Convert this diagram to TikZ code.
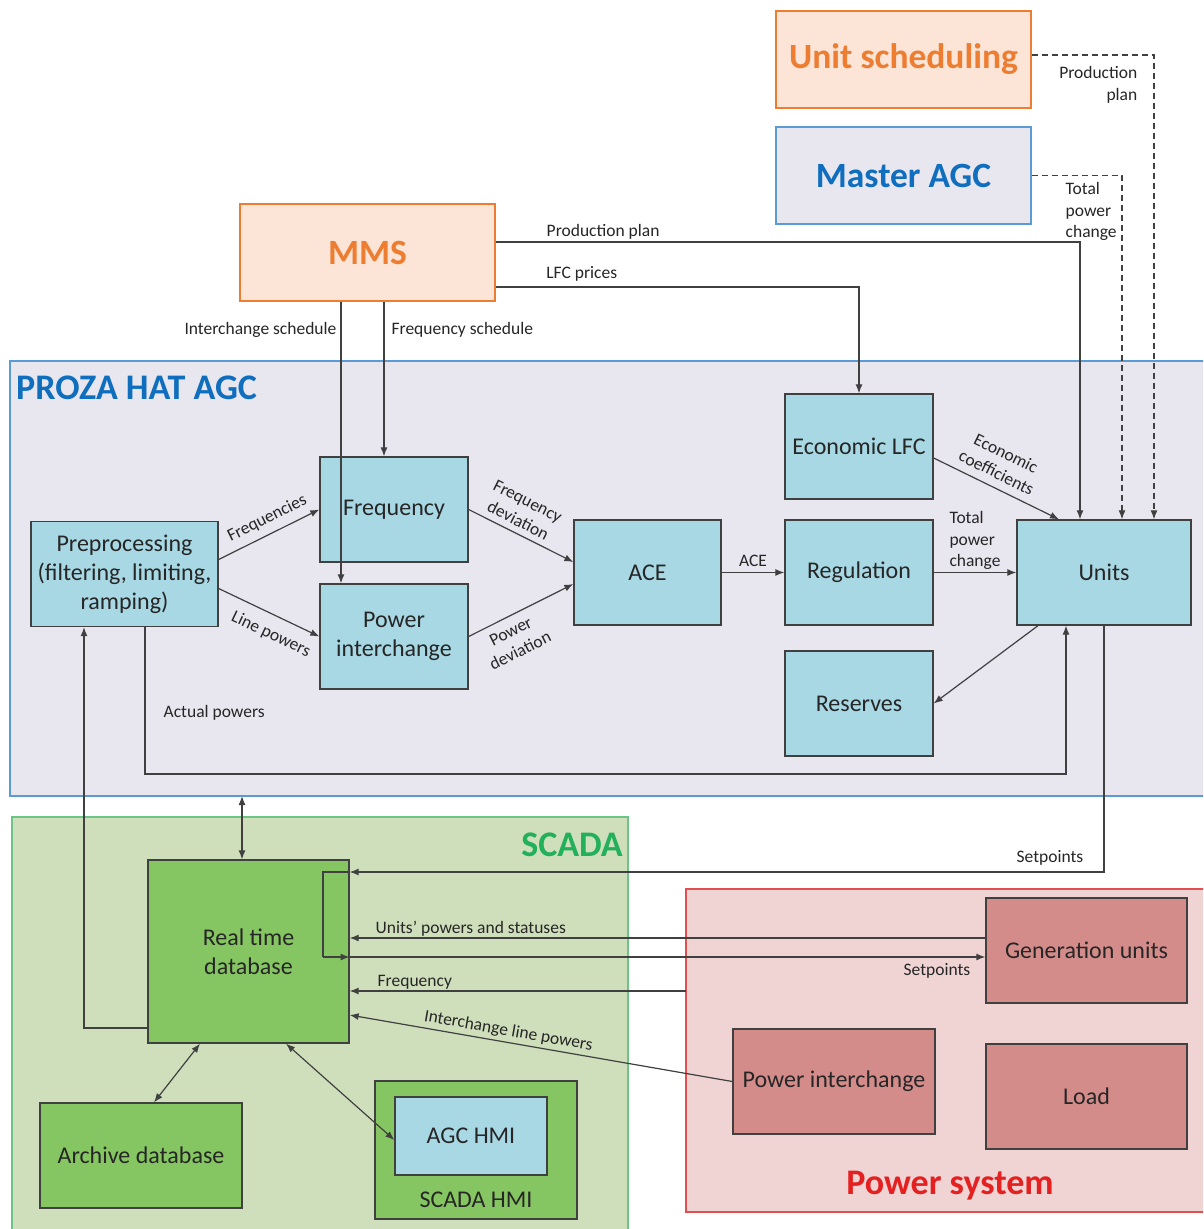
\documentclass[tikz,border=0pt]{standalone}
\usepackage{fontspec}
\setmainfont{Carlito}
\usetikzlibrary{arrows.meta}
\definecolor{lineg}{HTML}{404040}
\definecolor{txt}{HTML}{262626}
\definecolor{cyanbox}{HTML}{A8D8E4}
\definecolor{prozabg}{HTML}{E8E6EE}
\definecolor{prozaln}{HTML}{5B9BD5}
\definecolor{bluet}{HTML}{0F6EBE}
\definecolor{scadabg}{HTML}{CFDFBB}
\definecolor{scadaln}{HTML}{6CC486}
\definecolor{scadat}{HTML}{22B05A}
\definecolor{greenbox}{HTML}{86C662}
\definecolor{psbg}{HTML}{F0D4D4}
\definecolor{psln}{HTML}{E05050}
\definecolor{pst}{HTML}{E52020}
\definecolor{redbox}{HTML}{D48C8A}
\definecolor{orbg}{HTML}{FCE4D6}
\definecolor{orln}{HTML}{ED7D31}
\tikzset{
  box/.style={draw=lineg, line width=1.3pt, inner sep=2pt, align=center, text=txt,
    font=\fontsize{24}{29}\selectfont},
  cbox/.style={box, fill=cyanbox, minimum width=148pt, minimum height=105pt},
  gbox/.style={box, fill=greenbox},
  rbox/.style={box, fill=redbox, minimum width=202pt, minimum height=105pt},
  titlebox/.style={line width=1.2pt, minimum width=255pt, minimum height=97pt,
    font=\fontsize{35.5}{40}\selectfont\bfseries},
  region/.style={line width=1.2pt},
  regtitle/.style={font=\fontsize{36}{40}\selectfont\bfseries, inner sep=0pt},
  lbl/.style={font=\fontsize{17.5}{21.5}\selectfont, text=txt, inner sep=2.5pt},
  slbl/.style={lbl, sloped, inner sep=5pt},
  conn/.style={draw=lineg, line width=1.2pt},
  arr/.style={conn, -{Latex[length=9pt,width=7pt]}},
  darr/.style={conn, {Latex[length=9pt,width=7pt]}-{Latex[length=9pt,width=7pt]}},
  dsh/.style={arr, dash pattern=on 6pt off 4pt},
}
\begin{document}
\begin{tikzpicture}[x=1pt,y=-1pt]
\useasboundingbox (0,0) rectangle (1203,1229);
\clip (0,0) rectangle (1203,1229);
\fill[white] (0,0) rectangle (1203,1229);

% regions
\draw[region, fill=prozabg, draw=prozaln] (10,361) rectangle (1215,796);
\coordinate (prozaS) at (600,796);
\node[regtitle, text=bluet, anchor=west] at (16,388) {PROZA HAT AGC};
\draw[region, fill=scadabg, draw=scadaln] (12,817) rectangle (628,1240);
\node[regtitle, text=scadat, anchor=east] at (623,845) {SCADA};
\draw[region, fill=psbg, draw=psln] (686,889) rectangle (1215,1212);
\coordinate (psW) at (686,1000);
\node[regtitle, text=pst] at (950,1186) {Power system};

% top boxes
\node[titlebox, fill=orbg, draw=orln, text=orln] (us) at (903.5,59.5) {Unit scheduling};
\node[titlebox, fill=prozabg, draw=prozaln, text=bluet] (magc) at (903.5,175.5) {Master AGC};
\node[titlebox, fill=orbg, draw=orln, text=orln] (mms) at (367.5,252.5) {MMS};

% AGC boxes
\node[cbox, minimum width=187pt] (pre) at (124.5,574) {Preprocessing\\(filtering, limiting,\\ramping)};
\node[cbox] (freq) at (394,509.5) {Frequency};
\node[cbox] (pi) at (394,636.5) {Power\\interchange};
\node[cbox, minimum width=147pt] (ace) at (647.5,572.5) {ACE};
\node[cbox] (econ) at (859,446.5) {Economic LFC};
\node[cbox] (reg) at (859,572.5) {Regulation};
\node[cbox, minimum width=174pt] (units) at (1104,572.5) {Units};
\node[cbox] (res) at (859,703.5) {Reserves};

% SCADA boxes
\node[gbox, minimum width=201pt, minimum height=183pt] (rtdb) at (248.5,951.5) {Real time\\database};
\node[gbox, minimum width=202pt, minimum height=105pt] (arch) at (141,1155.5) {Archive database};
\node[gbox, minimum width=202pt, minimum height=138pt] (shmi) at (476,1150) {};
\node[box, fill=cyanbox, minimum width=152pt, minimum height=78pt] (ahmi) at (471,1136) {AGC HMI};
\node[box, draw=none, fill=none, inner sep=0pt] at (476,1200) {SCADA HMI};

% Power system boxes
\node[rbox, minimum width=201pt] (gen) at (1086.5,950.5) {Generation units};
\node[rbox] (pips) at (834,1081.5) {Power interchange};
\node[rbox, minimum width=201pt] (load) at (1086.5,1096.5) {Load};

% ports
\coordinate (mmsPP) at ([yshift=10.5pt]mms.east);
\coordinate (mmsLFC) at ([yshift=-34.5pt]mms.east);
\coordinate (mmsIS) at ([xshift=-26.5pt]mms.south);
\coordinate (mmsFS) at ([xshift=16.5pt]mms.south);
\coordinate (uPP) at ([xshift=-24pt]units.north);
\coordinate (uMA) at ([xshift=18pt]units.north);
\coordinate (uUS) at ([xshift=50pt]units.north);
\coordinate (uEC) at ([xshift=-45pt]units.north);
\coordinate (uRes) at ([xshift=-66pt]units.south);
\coordinate (uAP) at ([xshift=-38pt]units.south);
\coordinate (usE) at ([yshift=4.5pt]us.east);
\coordinate (preAP) at ([xshift=20.5pt]pre.south);
\coordinate (preIn) at ([xshift=-40.5pt]pre.south);
\coordinate (apc) at (1066,774);
\coordinate (rtdbPre) at ([yshift=-76.5pt]rtdb.west);
\coordinate (rtdbTop) at ([xshift=-6.5pt]rtdb.north);
\coordinate (rtdbSP) at ([yshift=79.5pt]rtdb.east);
\coordinate (rtdbSP2) at ([yshift=-5.5pt]rtdb.east);
\coordinate (rtdbUP) at ([yshift=13.5pt]rtdb.east);
\coordinate (rtdbF) at ([yshift=-39.5pt]rtdb.east);
\coordinate (rtdbIL) at ([yshift=-63.5pt]rtdb.east);
\coordinate (lt) at (323,872);
\coordinate (lb) at (323,957);
\coordinate (genUP) at ([yshift=12.5pt]gen.west);
\coordinate (genSP) at ([yshift=-6.5pt]gen.west);

% top connectors
\draw[dsh] (usE) -| (uUS);
\node[lbl, align=right, anchor=north east] at (1140,64) {Production\\plan};
\draw[dsh] (magc.east) -| (uMA);
\node[lbl, align=left, anchor=north west] at (1063,180) {Total\\power\\change};
\draw[arr] (mmsPP) -- node[lbl, above, pos=0.184] {Production plan} (mmsPP -| uPP) -- (uPP);
\draw[arr] (mmsLFC) -- node[lbl, above, pos=0.237, inner sep=5pt] {LFC prices} (mmsLFC -| econ.north) -- (econ.north);
\draw[arr] (mmsIS) -- node[lbl, left, pos=0.1, inner sep=4pt] {Interchange schedule} (mmsIS |- pi.north);
\draw[arr] (mmsFS) -- node[lbl, right, pos=0.18, inner sep=7pt] {Frequency schedule} (mmsFS |- freq.north);

% AGC connectors
\draw[arr] ([yshift=14.5pt]pre.east) -- node[slbl, above, pos=0.55, inner sep=7pt] {Frequencies} (freq.west);
\draw[arr] ([yshift=-14.5pt]pre.east) -- node[slbl, below, pos=0.6, inner sep=11pt] {Line powers} (pi.west);
\draw[arr] (freq.east) -- node[slbl, above, align=center, pos=0.42, inner sep=6pt] {Frequency\\deviation} ([yshift=10.5pt]ace.west);
\draw[arr] (pi.east) -- node[slbl, below, align=center, pos=0.34, inner sep=8pt] {Power\\deviation} ([yshift=-11.5pt]ace.west);
\draw[arr] (ace) -- node[lbl, above, inner sep=5pt] {ACE} (reg);
\draw[arr] (reg) -- node[lbl, above, align=left, inner sep=2pt] {Total\\power\\change} (units);
\draw[arr] ([yshift=-11.5pt]econ.east) -- node[slbl, above, align=center, pos=0.45, inner sep=8pt] {Economic\\coefficients} (uEC);
\draw[arr] (uRes) -- (res.east);
\draw[arr] (preAP) |- (apc) -- (uAP);
\node[lbl, anchor=west] at (161,713) {Actual powers};

% SCADA connectors
\draw[arr] (rtdbPre) -| (preIn);
\draw[darr] (rtdbTop) -- (rtdbTop |- prozaS);
\draw[arr] (units.south) |- (rtdbSP);
\node[lbl, anchor=east] at (1086,858) {Setpoints};
\draw[conn] (rtdbSP) -- (lt) -- (lb);
\draw[arr] (lb) -- (rtdbSP2);
\draw[arr] (rtdbSP2) -- (genSP);
\node[lbl, anchor=east] at (973,971) {Setpoints};
\draw[arr] (genUP) -- (rtdbUP);
\node[lbl, anchor=west] at (373,929) {Units’ powers and statuses};
\draw[arr] (psW |- rtdbF) -- (rtdbF);
\node[lbl, anchor=west] at (375,982) {Frequency};
\draw[arr] (pips.west) -- node[slbl, above, pos=0.59, inner sep=3pt] {Interchange line powers} (rtdbIL);
\draw[darr] ([xshift=-48.5pt]rtdb.south) -- ([xshift=13pt]arch.north);
\draw[darr] ([xshift=37.5pt]rtdb.south) -- ([yshift=-4pt]ahmi.west);
\end{tikzpicture}
\end{document}
